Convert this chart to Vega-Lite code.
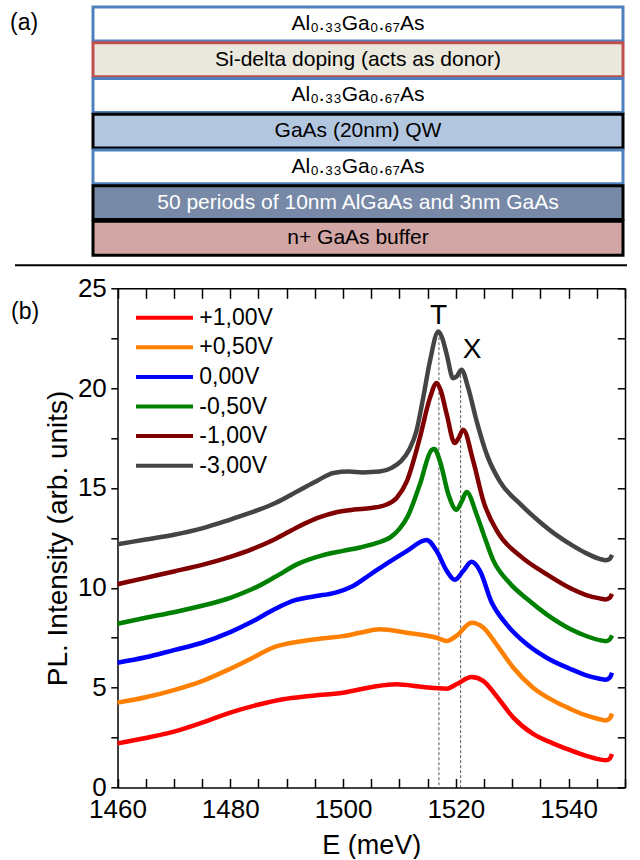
{
  "$schema": "https://vega.github.io/schema/vega-lite/v6.json",
  "background": "white",
  "padding": {"left": 10, "top": 5, "right": 0, "bottom": 0},
  "spacing": 8.3,
  "resolve": {"legend": {"color": "independent"}},
  "config": {
    "font": "Liberation Sans",
    "view": {"stroke": null},
    "axis": {"grid": false, "labelFont": "Liberation Sans", "titleFont": "Liberation Sans", "labelColor": "black", "titleColor": "black", "domainColor": "black", "tickColor": "black", "titleFontWeight": "normal"}
  },
  "vconcat": [
    {
      "width": 530,
      "height": 248.3,
      "data": {"values": [
        {"layer": 1, "label": "Al₀.₃₃Ga₀.₆₇As", "material": "AlGaAs"},
        {"layer": 2, "label": "Si-delta doping (acts as donor)", "material": "Si-delta"},
        {"layer": 3, "label": "Al₀.₃₃Ga₀.₆₇As", "material": "AlGaAs"},
        {"layer": 4, "label": "GaAs (20nm) QW", "material": "QW"},
        {"layer": 5, "label": "Al₀.₃₃Ga₀.₆₇As", "material": "AlGaAs"},
        {"layer": 6, "label": "50 periods of 10nm AlGaAs and 3nm GaAs", "material": "SL"},
        {"layer": 7, "label": "n+ GaAs buffer", "material": "buffer"}
      ]},
      "encoding": {
        "y": {"field": "layer", "type": "ordinal", "axis": null, "scale": {"paddingInner": 0.05, "paddingOuter": 0}}
      },
      "layer": [
        {
          "mark": {"type": "bar", "strokeWidth": 3},
          "encoding": {
            "fill": {"field": "material", "type": "nominal", "legend": null,
              "scale": {"domain": ["AlGaAs", "Si-delta", "QW", "SL", "buffer"], "range": ["#ffffff", "#ebe8de", "#b3c6df", "#7789a6", "#d3a6a6"]}},
            "stroke": {"field": "material", "type": "nominal", "legend": null,
              "scale": {"domain": ["AlGaAs", "Si-delta", "QW", "SL", "buffer"], "range": ["#4f81bd", "#c0504d", "#000000", "#000000", "#000000"]}}
          }
        },
        {
          "mark": {"type": "text", "fontSize": 21, "baseline": "middle", "align": "center"},
          "encoding": {
            "text": {"field": "label"},
            "color": {"condition": {"test": "datum.material === 'SL'", "value": "white"}, "value": "black"}
          }
        },
        {
          "transform": [{"filter": "datum.layer === 7"}],
          "mark": {"type": "rule", "strokeWidth": 2, "color": "black", "yOffset": 10, "xOffset": -78, "x2Offset": 4},
          "encoding": {
            "y": {"field": "layer", "type": "ordinal", "bandPosition": 1},
            "x": {"datum": 0, "type": "quantitative", "scale": {"domain": [0, 1]}, "axis": null},
            "x2": {"datum": 1}
          }
        },
        {
          "transform": [{"filter": "datum.layer === 1"}],
          "mark": {"type": "text", "fontSize": 23, "align": "left", "baseline": "middle", "xOffset": -83, "yOffset": -1, "color": "black"},
          "encoding": {
            "x": {"datum": 0, "type": "quantitative"},
            "text": {"value": "(a)"}
          }
        }
      ]
    },
    {
      "width": 532,
      "height": 499.2,
      "data": {"values": [
        {"v": "-3,00V", "E": 1460, "I": 12.18},
        {"v": "-3,00V", "E": 1465, "I": 12.42},
        {"v": "-3,00V", "E": 1470, "I": 12.66},
        {"v": "-3,00V", "E": 1475, "I": 12.98},
        {"v": "-3,00V", "E": 1480, "I": 13.42},
        {"v": "-3,00V", "E": 1484, "I": 13.8},
        {"v": "-3,00V", "E": 1488, "I": 14.25},
        {"v": "-3,00V", "E": 1492, "I": 14.85},
        {"v": "-3,00V", "E": 1495.5, "I": 15.38},
        {"v": "-3,00V", "E": 1498.3, "I": 15.75},
        {"v": "-3,00V", "E": 1501, "I": 15.82},
        {"v": "-3,00V", "E": 1503.5, "I": 15.78},
        {"v": "-3,00V", "E": 1506.5, "I": 15.82},
        {"v": "-3,00V", "E": 1508.7, "I": 16.02},
        {"v": "-3,00V", "E": 1510.3, "I": 16.35},
        {"v": "-3,00V", "E": 1511.8, "I": 16.95},
        {"v": "-3,00V", "E": 1513, "I": 17.84},
        {"v": "-3,00V", "E": 1514.2, "I": 19.5},
        {"v": "-3,00V", "E": 1515.4, "I": 21.34},
        {"v": "-3,00V", "E": 1516.9, "I": 22.84},
        {"v": "-3,00V", "E": 1517.6, "I": 22.5},
        {"v": "-3,00V", "E": 1518.4, "I": 21.67},
        {"v": "-3,00V", "E": 1519.5, "I": 20.5},
        {"v": "-3,00V", "E": 1520.2, "I": 20.6},
        {"v": "-3,00V", "E": 1521, "I": 20.92},
        {"v": "-3,00V", "E": 1522.2, "I": 20.0},
        {"v": "-3,00V", "E": 1523.7, "I": 18.34},
        {"v": "-3,00V", "E": 1525.5, "I": 16.67},
        {"v": "-3,00V", "E": 1527.8, "I": 15.33},
        {"v": "-3,00V", "E": 1531.4, "I": 14.2},
        {"v": "-3,00V", "E": 1534.9, "I": 13.3},
        {"v": "-3,00V", "E": 1537.8, "I": 12.65},
        {"v": "-3,00V", "E": 1540.5, "I": 12.15},
        {"v": "-3,00V", "E": 1543, "I": 11.75},
        {"v": "-3,00V", "E": 1545.5, "I": 11.45},
        {"v": "-3,00V", "E": 1546.6, "I": 11.38},
        {"v": "-3,00V", "E": 1547.3, "I": 11.45},
        {"v": "-3,00V", "E": 1547.7, "I": 11.65},

        {"v": "-1,00V", "E": 1460, "I": 10.18},
        {"v": "-1,00V", "E": 1465, "I": 10.5},
        {"v": "-1,00V", "E": 1470, "I": 10.82},
        {"v": "-1,00V", "E": 1475, "I": 11.15},
        {"v": "-1,00V", "E": 1480, "I": 11.55},
        {"v": "-1,00V", "E": 1484, "I": 11.95},
        {"v": "-1,00V", "E": 1488, "I": 12.45},
        {"v": "-1,00V", "E": 1492, "I": 13.05},
        {"v": "-1,00V", "E": 1495.5, "I": 13.5},
        {"v": "-1,00V", "E": 1499, "I": 13.8},
        {"v": "-1,00V", "E": 1502, "I": 13.92},
        {"v": "-1,00V", "E": 1505, "I": 14.0},
        {"v": "-1,00V", "E": 1507.5, "I": 14.15},
        {"v": "-1,00V", "E": 1509.5, "I": 14.5},
        {"v": "-1,00V", "E": 1511.3, "I": 15.33},
        {"v": "-1,00V", "E": 1513.6, "I": 17.5},
        {"v": "-1,00V", "E": 1515.4, "I": 19.5},
        {"v": "-1,00V", "E": 1516.6, "I": 20.26},
        {"v": "-1,00V", "E": 1517.3, "I": 19.9},
        {"v": "-1,00V", "E": 1518.4, "I": 18.67},
        {"v": "-1,00V", "E": 1519.8, "I": 17.25},
        {"v": "-1,00V", "E": 1520.5, "I": 17.5},
        {"v": "-1,00V", "E": 1521.3, "I": 17.92},
        {"v": "-1,00V", "E": 1523.1, "I": 16.33},
        {"v": "-1,00V", "E": 1524.9, "I": 14.33},
        {"v": "-1,00V", "E": 1527.5, "I": 12.75},
        {"v": "-1,00V", "E": 1531.4, "I": 11.6},
        {"v": "-1,00V", "E": 1536.1, "I": 10.68},
        {"v": "-1,00V", "E": 1540.5, "I": 9.95},
        {"v": "-1,00V", "E": 1543, "I": 9.65},
        {"v": "-1,00V", "E": 1545.5, "I": 9.47},
        {"v": "-1,00V", "E": 1546.6, "I": 9.42},
        {"v": "-1,00V", "E": 1547.3, "I": 9.5},
        {"v": "-1,00V", "E": 1547.7, "I": 9.7},

        {"v": "-0,50V", "E": 1460, "I": 8.2},
        {"v": "-0,50V", "E": 1465, "I": 8.5},
        {"v": "-0,50V", "E": 1470, "I": 8.78},
        {"v": "-0,50V", "E": 1475, "I": 9.1},
        {"v": "-0,50V", "E": 1480, "I": 9.5},
        {"v": "-0,50V", "E": 1484, "I": 9.95},
        {"v": "-0,50V", "E": 1488, "I": 10.55},
        {"v": "-0,50V", "E": 1492, "I": 11.2},
        {"v": "-0,50V", "E": 1496, "I": 11.6},
        {"v": "-0,50V", "E": 1500, "I": 11.85},
        {"v": "-0,50V", "E": 1503, "I": 12.02},
        {"v": "-0,50V", "E": 1506, "I": 12.25},
        {"v": "-0,50V", "E": 1508.5, "I": 12.55},
        {"v": "-0,50V", "E": 1510, "I": 12.95},
        {"v": "-0,50V", "E": 1511.5, "I": 13.6},
        {"v": "-0,50V", "E": 1513.6, "I": 15.16},
        {"v": "-0,50V", "E": 1515.7, "I": 16.9},
        {"v": "-0,50V", "E": 1516.2, "I": 16.95},
        {"v": "-0,50V", "E": 1517.2, "I": 16.33},
        {"v": "-0,50V", "E": 1518.7, "I": 14.66},
        {"v": "-0,50V", "E": 1520.1, "I": 13.91},
        {"v": "-0,50V", "E": 1521, "I": 14.3},
        {"v": "-0,50V", "E": 1521.9, "I": 14.8},
        {"v": "-0,50V", "E": 1523.7, "I": 13.66},
        {"v": "-0,50V", "E": 1524.9, "I": 12.7},
        {"v": "-0,50V", "E": 1526.6, "I": 11.4},
        {"v": "-0,50V", "E": 1529.5, "I": 10.25},
        {"v": "-0,50V", "E": 1532.6, "I": 9.45},
        {"v": "-0,50V", "E": 1536.1, "I": 8.67},
        {"v": "-0,50V", "E": 1540.2, "I": 7.95},
        {"v": "-0,50V", "E": 1543, "I": 7.6},
        {"v": "-0,50V", "E": 1545.5, "I": 7.38},
        {"v": "-0,50V", "E": 1546.6, "I": 7.33},
        {"v": "-0,50V", "E": 1547.3, "I": 7.42},
        {"v": "-0,50V", "E": 1547.7, "I": 7.62},

        {"v": "\u00a00,00V", "E": 1460, "I": 6.25},
        {"v": "\u00a00,00V", "E": 1465, "I": 6.52},
        {"v": "\u00a00,00V", "E": 1470, "I": 6.88},
        {"v": "\u00a00,00V", "E": 1475, "I": 7.25},
        {"v": "\u00a00,00V", "E": 1480, "I": 7.78},
        {"v": "\u00a00,00V", "E": 1484, "I": 8.32},
        {"v": "\u00a00,00V", "E": 1488, "I": 8.95},
        {"v": "\u00a00,00V", "E": 1491.5, "I": 9.38},
        {"v": "\u00a00,00V", "E": 1495, "I": 9.58},
        {"v": "\u00a00,00V", "E": 1498.5, "I": 9.75},
        {"v": "\u00a00,00V", "E": 1501.5, "I": 10.05},
        {"v": "\u00a00,00V", "E": 1505, "I": 10.7},
        {"v": "\u00a00,00V", "E": 1508.5, "I": 11.35},
        {"v": "\u00a00,00V", "E": 1511.3, "I": 11.84},
        {"v": "\u00a00,00V", "E": 1514.8, "I": 12.4},
        {"v": "\u00a00,00V", "E": 1516.6, "I": 11.84},
        {"v": "\u00a00,00V", "E": 1518.4, "I": 10.84},
        {"v": "\u00a00,00V", "E": 1519.8, "I": 10.4},
        {"v": "\u00a00,00V", "E": 1521.3, "I": 10.84},
        {"v": "\u00a00,00V", "E": 1522.8, "I": 11.3},
        {"v": "\u00a00,00V", "E": 1524.3, "I": 10.84},
        {"v": "\u00a00,00V", "E": 1526.3, "I": 9.3},
        {"v": "\u00a00,00V", "E": 1529, "I": 8.17},
        {"v": "\u00a00,00V", "E": 1532.6, "I": 7.17},
        {"v": "\u00a00,00V", "E": 1536.1, "I": 6.5},
        {"v": "\u00a00,00V", "E": 1540.2, "I": 5.95},
        {"v": "\u00a00,00V", "E": 1543, "I": 5.63},
        {"v": "\u00a00,00V", "E": 1545.5, "I": 5.45},
        {"v": "\u00a00,00V", "E": 1546.6, "I": 5.4},
        {"v": "\u00a00,00V", "E": 1547.3, "I": 5.5},
        {"v": "\u00a00,00V", "E": 1547.7, "I": 5.75},

        {"v": "+0,50V", "E": 1460, "I": 4.25},
        {"v": "+0,50V", "E": 1465, "I": 4.52},
        {"v": "+0,50V", "E": 1470, "I": 4.88},
        {"v": "+0,50V", "E": 1475, "I": 5.33},
        {"v": "+0,50V", "E": 1480, "I": 5.95},
        {"v": "+0,50V", "E": 1484, "I": 6.5},
        {"v": "+0,50V", "E": 1488, "I": 7.05},
        {"v": "+0,50V", "E": 1492, "I": 7.3},
        {"v": "+0,50V", "E": 1496.5, "I": 7.47},
        {"v": "+0,50V", "E": 1500, "I": 7.58},
        {"v": "+0,50V", "E": 1503, "I": 7.75},
        {"v": "+0,50V", "E": 1506.5, "I": 7.92},
        {"v": "+0,50V", "E": 1511.3, "I": 7.75},
        {"v": "+0,50V", "E": 1516.6, "I": 7.5},
        {"v": "+0,50V", "E": 1518.4, "I": 7.34},
        {"v": "+0,50V", "E": 1520.1, "I": 7.59},
        {"v": "+0,50V", "E": 1522.8, "I": 8.25},
        {"v": "+0,50V", "E": 1524.9, "I": 8.0},
        {"v": "+0,50V", "E": 1527.2, "I": 7.17},
        {"v": "+0,50V", "E": 1530.2, "I": 6.0},
        {"v": "+0,50V", "E": 1533.7, "I": 5.0},
        {"v": "+0,50V", "E": 1537.3, "I": 4.35},
        {"v": "+0,50V", "E": 1540.2, "I": 3.95},
        {"v": "+0,50V", "E": 1543, "I": 3.62},
        {"v": "+0,50V", "E": 1545.5, "I": 3.42},
        {"v": "+0,50V", "E": 1546.6, "I": 3.36},
        {"v": "+0,50V", "E": 1547.3, "I": 3.46},
        {"v": "+0,50V", "E": 1547.7, "I": 3.7},

        {"v": "+1,00V", "E": 1460, "I": 2.21},
        {"v": "+1,00V", "E": 1465, "I": 2.48},
        {"v": "+1,00V", "E": 1470, "I": 2.8},
        {"v": "+1,00V", "E": 1475, "I": 3.25},
        {"v": "+1,00V", "E": 1480, "I": 3.75},
        {"v": "+1,00V", "E": 1484.7, "I": 4.13},
        {"v": "+1,00V", "E": 1489.4, "I": 4.42},
        {"v": "+1,00V", "E": 1494.1, "I": 4.58},
        {"v": "+1,00V", "E": 1500, "I": 4.75},
        {"v": "+1,00V", "E": 1505.4, "I": 5.05},
        {"v": "+1,00V", "E": 1509.5, "I": 5.17},
        {"v": "+1,00V", "E": 1514.2, "I": 5.03},
        {"v": "+1,00V", "E": 1518.4, "I": 4.95},
        {"v": "+1,00V", "E": 1520.1, "I": 5.17},
        {"v": "+1,00V", "E": 1522.8, "I": 5.53},
        {"v": "+1,00V", "E": 1524.9, "I": 5.33},
        {"v": "+1,00V", "E": 1527.2, "I": 4.58},
        {"v": "+1,00V", "E": 1530.2, "I": 3.5},
        {"v": "+1,00V", "E": 1533.7, "I": 2.68},
        {"v": "+1,00V", "E": 1537.3, "I": 2.2},
        {"v": "+1,00V", "E": 1540.2, "I": 1.88},
        {"v": "+1,00V", "E": 1543, "I": 1.6},
        {"v": "+1,00V", "E": 1545.5, "I": 1.41},
        {"v": "+1,00V", "E": 1546.6, "I": 1.36},
        {"v": "+1,00V", "E": 1547.3, "I": 1.45},
        {"v": "+1,00V", "E": 1547.7, "I": 1.68}
      ]},
      "layer": [
        {
          "data": {"values": [{"peak": "T", "E": 1517.0, "top": 22.8}, {"peak": "X", "E": 1520.85, "top": 20.9}]},
          "mark": {"type": "rule", "strokeDash": [3, 2], "strokeWidth": 1, "color": "#555555"},
          "encoding": {
            "x": {"field": "E", "type": "quantitative", "scale": {"domain": [1460, 1550], "nice": false, "zero": false, "rangeMin": 24.5},
              "axis": {"orient": "top", "values": [1460, 1465, 1470, 1475, 1480, 1485, 1490, 1495, 1500, 1505, 1510, 1515, 1520, 1525, 1530, 1535, 1540, 1545, 1550], "labels": false, "tickSize": -10, "tickWidth": 1.5, "domainWidth": 1.5, "title": null}},
            "y": {"field": "top", "type": "quantitative", "scale": {"domain": [0, 25], "nice": false},
              "axis": {"orient": "right", "values": [0, 2.5, 5, 7.5, 10, 12.5, 15, 17.5, 20, 22.5, 25], "labels": false, "tickSize": -7.7, "tickWidth": 1.5, "domainWidth": 1.5, "title": null}},
            "y2": {"datum": 0}
          }
        },
        {
          "mark": {"type": "line", "strokeWidth": 4.5, "interpolate": "monotone"},
          "encoding": {
            "x": {"field": "E", "type": "quantitative", "scale": {"domain": [1460, 1550], "nice": false, "zero": false, "rangeMin": 24.5},
              "axis": {"orient": "bottom", "values": [1460, 1465, 1470, 1475, 1480, 1485, 1490, 1495, 1500, 1505, 1510, 1515, 1520, 1525, 1530, 1535, 1540, 1545, 1550], "format": "d", "labelExpr": "(datum.value - 1460) % 20 === 0 ? datum.label : ''", "tickSize": -9, "tickWidth": 1.5, "domainWidth": 1.5, "labelPadding": 18, "labelFontSize": 26, "labelFlush": false, "labelOverlap": false, "title": "E (meV)", "titleFontSize": 27, "titlePadding": 10}},
            "y": {"field": "I", "type": "quantitative", "scale": {"domain": [0, 25], "nice": false},
              "axis": {"orient": "left", "offset": -24.5, "values": [0, 2.5, 5, 7.5, 10, 12.5, 15, 17.5, 20, 22.5, 25], "labelExpr": "datum.value % 5 === 0 ? datum.label : ''", "tickSize": 6.7, "tickWidth": 1.5, "domainWidth": 1.5, "labelPadding": 4.5, "labelFontSize": 26, "labelFlush": false, "labelOverlap": false, "title": "PL. Intensity (arb. units)", "titleFontSize": 28, "titlePadding": 5}},
            "color": {"field": "v", "type": "nominal",
              "scale": {"domain": ["+1,00V", "+0,50V", "\u00a00,00V", "-0,50V", "-1,00V", "-3,00V"], "range": ["#ff0000", "#ff8000", "#0000ff", "#008000", "#800000", "#444444"]},
              "legend": {"orient": "none", "legendX": 41, "legendY": 17.4, "title": null, "padding": 0, "symbolType": "stroke", "symbolSize": 3249, "symbolStrokeWidth": 4, "labelFontSize": 23, "labelFont": "Liberation Sans", "labelColor": "black", "labelOffset": 4.3, "clipHeight": 24, "rowPadding": 5.6}}
          }
        },
        {
          "data": {"values": [{"lab": "T", "E": 1516.95, "I": 23.2}, {"lab": "X", "E": 1522.9, "I": 21.5}]},
          "mark": {"type": "text", "fontSize": 28, "align": "center", "baseline": "alphabetic", "color": "black"},
          "encoding": {
            "x": {"field": "E", "type": "quantitative", "scale": {"domain": [1460, 1550], "nice": false, "zero": false, "rangeMin": 24.5}, "axis": null},
            "y": {"field": "I", "type": "quantitative", "scale": {"domain": [0, 25], "nice": false}, "axis": null},
            "text": {"field": "lab"}
          }
        },
        {
          "data": {"values": [{"panel": "(b)"}]},
          "mark": {"type": "text", "fontSize": 23, "align": "left", "baseline": "middle", "xOffset": -106.5, "yOffset": 24, "color": "black"},
          "encoding": {
            "x": {"datum": 1460, "type": "quantitative", "scale": {"domain": [1460, 1550], "nice": false, "zero": false, "rangeMin": 24.5}, "axis": null},
            "y": {"datum": 25, "type": "quantitative", "scale": {"domain": [0, 25], "nice": false}, "axis": null},
            "text": {"field": "panel"}
          }
        }
      ],
      "resolve": {"axis": {"x": "independent", "y": "independent"}}
    }
  ]
}
